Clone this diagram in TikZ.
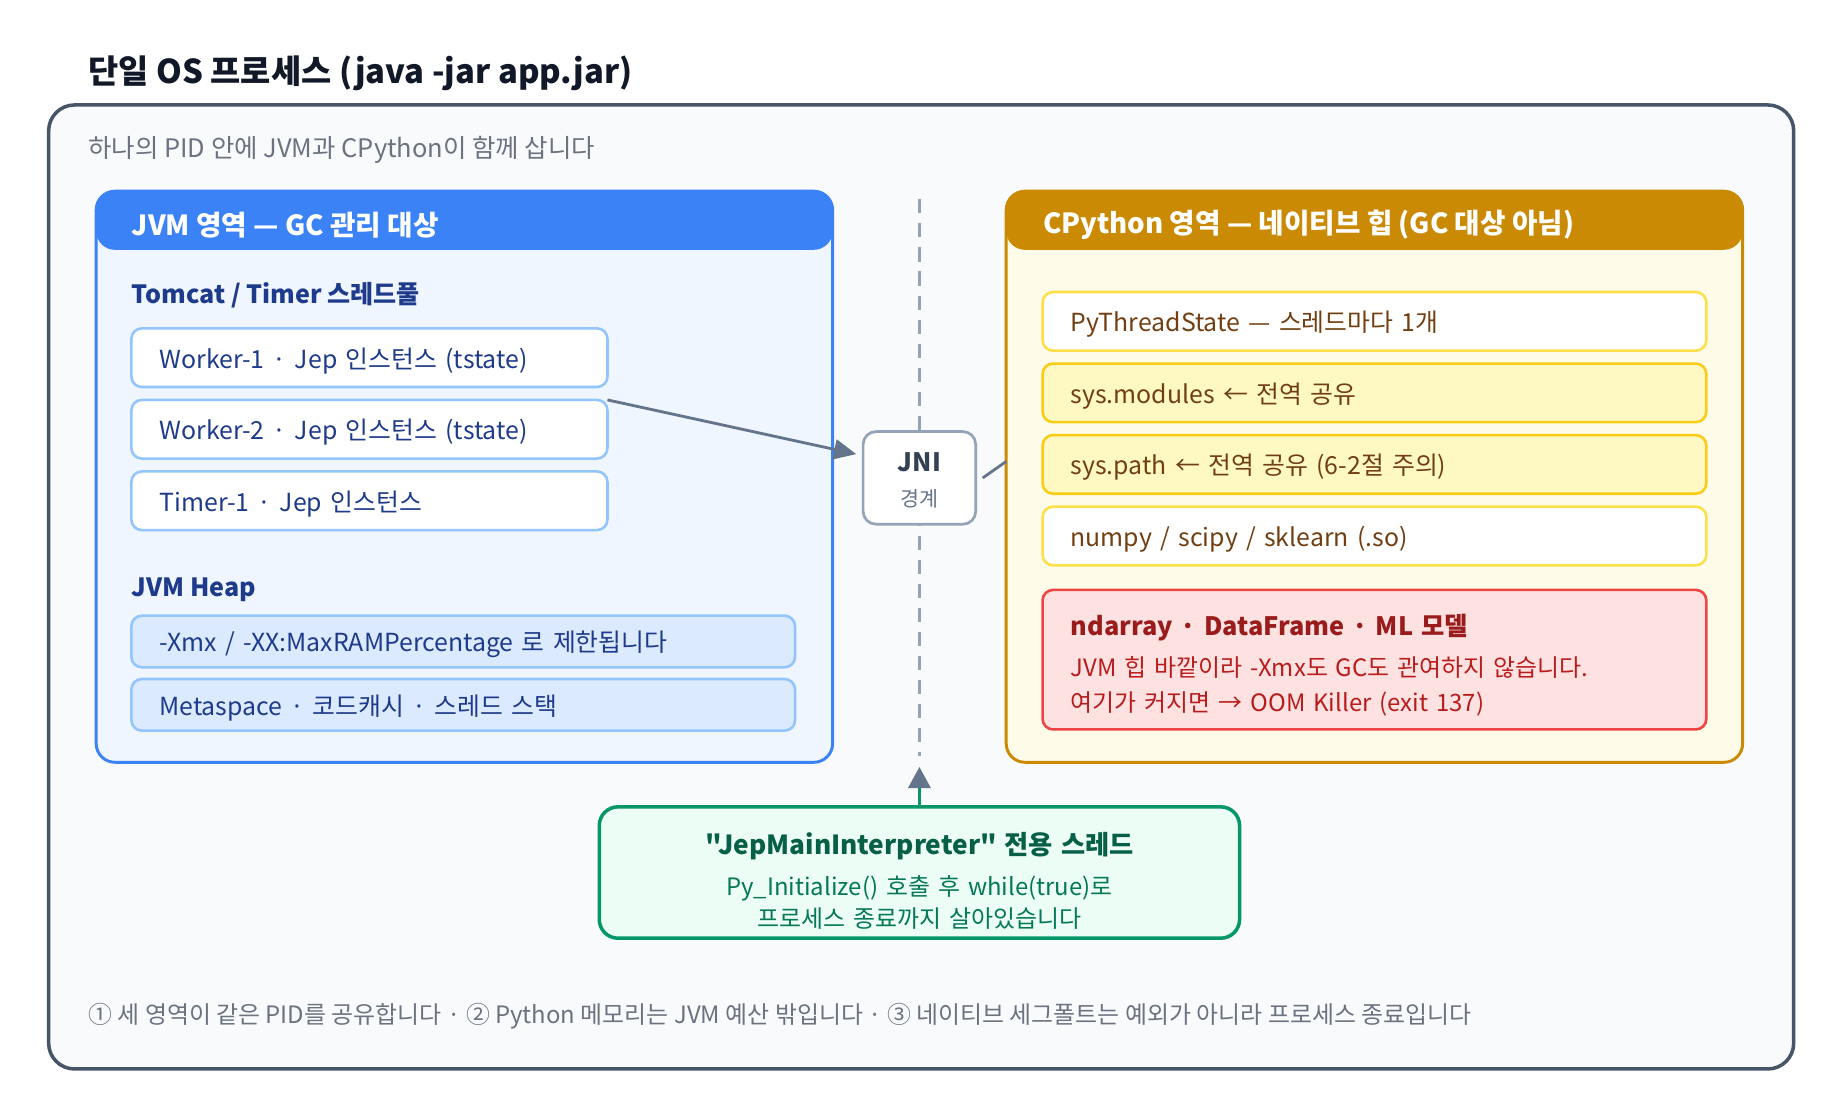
\documentclass[tikz,border=0pt]{standalone}
\usepackage{fontspec}
\setmainfont{Noto Sans CJK KR}[Ligatures=TeXOff]
\usetikzlibrary{positioning,arrows.meta}

\definecolor{titlecol}{HTML}{111827}
\definecolor{muted}{HTML}{6B7280}
\definecolor{outerline}{HTML}{475569}
\definecolor{outerfill}{HTML}{F8FAFC}
\definecolor{jvmblue}{HTML}{3B82F6}
\definecolor{jvmbody}{HTML}{EFF6FF}
\definecolor{jvmline}{HTML}{93C5FD}
\definecolor{jvmtext}{HTML}{1E3A8A}
\definecolor{heapfill}{HTML}{DBEAFE}
\definecolor{pygold}{HTML}{CA8A04}
\definecolor{pybody}{HTML}{FEFCE8}
\definecolor{pyline}{HTML}{FDE047}
\definecolor{pyline2}{HTML}{FACC15}
\definecolor{pyfill}{HTML}{FEF9C3}
\definecolor{pytext}{HTML}{713F12}
\definecolor{redfill}{HTML}{FEE2E2}
\definecolor{redline}{HTML}{EF4444}
\definecolor{redtitle}{HTML}{991B1B}
\definecolor{redtext}{HTML}{B91C1C}
\definecolor{greenfill}{HTML}{ECFDF5}
\definecolor{greenline}{HTML}{059669}
\definecolor{greentitle}{HTML}{065F46}
\definecolor{greentext}{HTML}{047857}
\definecolor{jniline}{HTML}{94A3B8}
\definecolor{jnitext}{HTML}{334155}
\definecolor{arrowgray}{HTML}{64748B}

\begin{document}
\begin{tikzpicture}[
    x=0.5pt, y=-0.5pt,
    >={Triangle[length=9.5pt,width=8.5pt]},
    header/.style={path picture={\fill[#1] (path picture bounding box.north west) rectangle ([yshift=-25pt]path picture bounding box.north east);}},
    panel/.style={draw, rounded corners=8pt, line width=1.25pt, minimum width=314pt, minimum height=243.5pt, anchor=north west, inner sep=0pt, outer sep=0pt},
    label/.style={anchor=west, inner sep=0pt},
    item/.style={draw, rounded corners=4.5pt, line width=1.1pt, minimum height=25pt, inner xsep=12pt, inner ysep=0pt, outer sep=0pt, align=left, font=\fontsize{10.6}{12.6}\selectfont},
    onerow/.style={item, text height=0.95em, text depth=0.07em},
    workerbox/.style={onerow, fill=white, draw=jvmline, text=jvmtext, text width=179pt},
    heapbox/.style={onerow, fill=heapfill, draw=jvmline, text=jvmtext, text width=259pt, minimum height=22pt},
    pybox/.style={onerow, fill=white, draw=pyline, text=pytext, text width=259pt},
    pyshared/.style={pybox, fill=pyfill, draw=pyline2},
    link/.style={draw=arrowgray, line width=1.2pt},
  ]
  \useasboundingbox (0,0) rectangle (1569,955);

  % title and process frame
  \node[label, text=titlecol, font=\bfseries\fontsize{14}{17}\selectfont] (title) at (75,62.5) {단일 OS 프로세스 (java -jar app.jar)};
  \node[draw=outerline, fill=outerfill, line width=1.5pt, rounded corners=11pt, minimum width=744pt, minimum height=411pt, anchor=north west] (proc) at (40,88) {};
  \node[label, text=muted, font=\fontsize{10.85}{13}\selectfont] (sub) at (75,127.5) {하나의 PID 안에 JVM과 CPython이 함께 삽니다};

  % JVM side
  \node[panel, draw=jvmblue, fill=jvmbody, header=jvmblue] (jvm) at (82,163) {};
  \node[label, text=white, font=\bfseries\fontsize{11.8}{14}\selectfont] (jvmhead) at (112,192) {JVM 영역 — GC 관리 대상};
  \node[label, text=jvmtext, font=\bfseries\fontsize{10.7}{12}\selectfont] (pool) at (112,252) {Tomcat / Timer 스레드풀};
  \node[workerbox, anchor=north west] (w1) at (112,280) {Worker-1 · Jep 인스턴스 (tstate)};
  \node[workerbox, below=5.5pt of w1] (w2) {Worker-2 · Jep 인스턴스 (tstate)};
  \node[workerbox, below=5.5pt of w2] (t1) {Timer-1 · Jep 인스턴스};
  \node[label, text=jvmtext, font=\bfseries\fontsize{10.7}{12}\selectfont] (heap) at (112,502.5) {JVM Heap};
  \node[heapbox, anchor=north west] (xmx) at (112,525) {-Xmx / -XX:MaxRAMPercentage 로 제한됩니다};
  \node[heapbox, below=5pt of xmx] (meta) {Metaspace · 코드캐시 · 스레드 스택};

  % CPython side
  \node[panel, draw=pygold, fill=pybody, header=pygold] (cpy) at (858,163) {};
  \node[label, text=white, font=\bfseries\fontsize{11.8}{14}\selectfont] (cpyhead) at (889,192) {CPython 영역 — 네이티브 힙 (GC 대상 아님)};
  \node[pybox, anchor=north west] (tstate) at (889,249) {PyThreadState — 스레드마다 1개};
  \node[pyshared, below=5.5pt of tstate] (mods) {sys.modules ← 전역 공유};
  \node[pyshared, below=5.5pt of mods] (syspath) {sys.path ← 전역 공유 (6-2절 주의)};
  \node[pybox, below=5.5pt of syspath] (libs) {numpy / scipy / sklearn (.so)};
  \node[item, fill=redfill, draw=redline, text=redtext, text width=259pt, minimum height=59.5pt, below=10.5pt of libs, font=\fontsize{10.2}{15}\selectfont] (native) {{\bfseries\color{redtitle}\fontsize{10.8}{15}\selectfont\rule{0pt}{13.5pt}ndarray · DataFrame · ML 모델}\\[2.5pt]JVM 힙 바깥이라 -Xmx도 GC도 관여하지 않습니다.\\여기가 커지면 → OOM Killer (exit 137)};

  % JNI boundary
  \draw[draw=jniline, line width=1.6pt, dash pattern=on 6pt off 4.25pt] (784,170) -- (784,645);
  \node[draw=jniline, fill=white, line width=1.15pt, rounded corners=5.5pt, minimum width=48pt, minimum height=39.5pt, inner sep=0pt, outer sep=0pt, text width=46pt, align=center, font=\fontsize{8.8}{15}\selectfont, text=arrowgray] (jni) at (784,407.5) {{\bfseries\color{jnitext}\fontsize{10.8}{15}\selectfont\rule{0pt}{10.5pt}JNI}\\경계};
  \draw[link, ->, shorten >=3pt] (w2.north east) -- ([yshift=9.5pt]jni.west);
  \draw[link] ([xshift=3pt]jni.east) -- ([yshift=6.5pt]cpy.west);

  % main interpreter thread
  \node[draw=greenline, fill=greenfill, line width=1.5pt, rounded corners=8pt, minimum width=273pt, minimum height=56pt, text width=262pt, align=center, font=\fontsize{10.2}{13.5}\selectfont, text=greentext] (jep) at (784,744) {{\bfseries\color{greentitle}\fontsize{11.2}{13.5}\selectfont\rule{0pt}{16.5pt}"JepMainInterpreter" 전용 스레드}\\[4pt]Py\_Initialize() 호출 후 while(true)로\\프로세스 종료까지 살아있습니다};
  \coordinate (gap) at (784,654);
  \draw[draw=greenline, line width=1.2pt, -{Triangle[length=9pt,width=9.5pt,color=arrowgray]}] (jep.north) -- (gap);

  \node[label, text=muted, font=\fontsize{10.2}{12}\selectfont] (notes) at (75,866.5) {① 세 영역이 같은 PID를 공유합니다 · ② Python 메모리는 JVM 예산 밖입니다 · ③ 네이티브 세그폴트는 예외가 아니라 프로세스 종료입니다};
\end{tikzpicture}
\end{document}
